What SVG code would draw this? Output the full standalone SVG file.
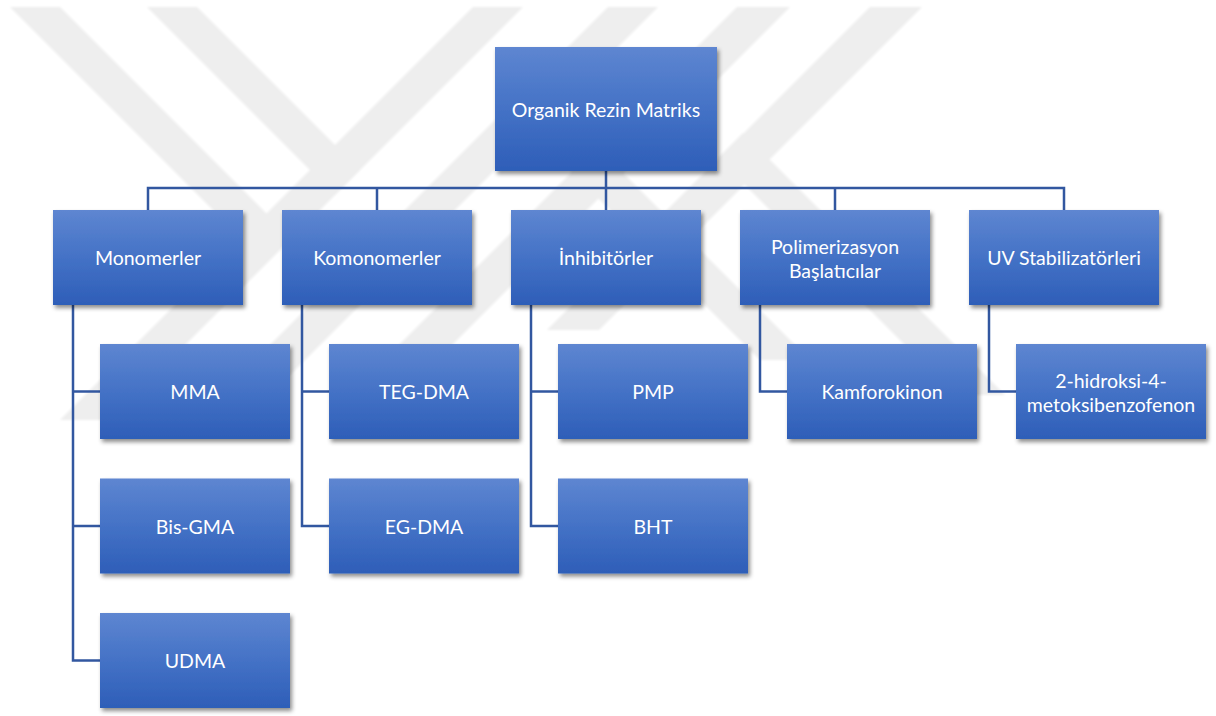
<svg xmlns="http://www.w3.org/2000/svg" width="1216" height="716" viewBox="0 0 1216 716">
<defs>
<linearGradient id="g" x1="0" y1="0" x2="0" y2="1">
<stop offset="0" stop-color="#5e86d1"/>
<stop offset="0.5" stop-color="#4472c6"/>
<stop offset="1" stop-color="#2e5eb8"/>
</linearGradient>
<filter id="sh" x="-10%" y="-10%" width="125%" height="130%">
<feDropShadow dx="2" dy="3" stdDeviation="2.2" flood-color="#000" flood-opacity="0.45"/>
</filter>
<filter id="bl"><feGaussianBlur stdDeviation="1"/></filter>
</defs>
<style>
.box{fill:url(#g);filter:url(#sh)}
.t{fill:#fff;font-family:Lato,"Liberation Sans",sans-serif;font-size:19.5px;text-anchor:middle;dominant-baseline:central}
.c{fill:none;stroke:#3257a0;stroke-width:2.5}
.w{fill:#eeeeee}
</style>
<rect width="1216" height="716" fill="#fff"/>
<g id="watermark" filter="url(#bl)">
<polygon class="w" points="473,7 523,7 110,420 60,420"/>
<polygon class="w" points="10,7 60,7 291,238 266,263"/>
<polygon class="w" points="147,7 197,7 360,170 335,195"/>
<polygon class="w" points="608,7 658,7 265,400 215,400"/>
<polygon class="w" points="737,7 790,7 417,380 364,380"/>
<polygon class="w" points="870,7 922,7 599,330 547,330"/>
<polygon class="w" points="718,158 743,133 1005,395 955,395"/>
<polygon class="w" points="550,150 600,150 810,360 760,360"/>
</g>
<g id="connectors">
<path class="c" d="M606,171V188M148,210V188H1064V210M377,188V210M606,188V210M835,188V210"/>
<path class="c" d="M73,305V660.5H100M73,391.5H100M73,526H100"/>
<path class="c" d="M302,305V526H329M302,391.5H329"/>
<path class="c" d="M531,305V526H558M531,391.5H558"/>
<path class="c" d="M760,305V391.5H787"/>
<path class="c" d="M989,305V391.5H1016"/>
</g>
<g id="root"><rect class="box" x="495" y="47" width="222" height="124"/><text class="t" x="606" y="109">Organik Rezin Matriks</text></g>
<g id="monomerler"><rect class="box" x="53" y="210" width="190" height="95"/><text class="t" x="148" y="257.5">Monomerler</text></g>
<g id="komonomerler"><rect class="box" x="282" y="210" width="190" height="95"/><text class="t" x="377" y="257.5">Komonomerler</text></g>
<g id="inhibitorler"><rect class="box" x="511" y="210" width="190" height="95"/><text class="t" x="606" y="257.5">İnhibitörler</text></g>
<g id="polimerizasyon"><rect class="box" x="740" y="210" width="190" height="95"/><text class="t" x="835" y="246">Polimerizasyon</text><text class="t" x="835" y="270">Başlatıcılar</text></g>
<g id="uv"><rect class="box" x="969" y="210" width="190" height="95"/><text class="t" x="1064" y="257.5">UV Stabilizatörleri</text></g>
<g id="mma"><rect class="box" x="100" y="344" width="190" height="95"/><text class="t" x="195" y="391.5">MMA</text></g>
<g id="bisgma"><rect class="box" x="100" y="478.5" width="190" height="95"/><text class="t" x="195" y="526">Bis-GMA</text></g>
<g id="udma"><rect class="box" x="100" y="613" width="190" height="95"/><text class="t" x="195" y="660.5">UDMA</text></g>
<g id="tegdma"><rect class="box" x="329" y="344" width="190" height="95"/><text class="t" x="424" y="391.5">TEG-DMA</text></g>
<g id="egdma"><rect class="box" x="329" y="478.5" width="190" height="95"/><text class="t" x="424" y="526">EG-DMA</text></g>
<g id="pmp"><rect class="box" x="558" y="344" width="190" height="95"/><text class="t" x="653" y="391.5">PMP</text></g>
<g id="bht"><rect class="box" x="558" y="478.5" width="190" height="95"/><text class="t" x="653" y="526">BHT</text></g>
<g id="kamforokinon"><rect class="box" x="787" y="344" width="190" height="95"/><text class="t" x="882" y="391.5">Kamforokinon</text></g>
<g id="hidroksi"><rect class="box" x="1016" y="344" width="190" height="95"/><text class="t" x="1111" y="380">2-hidroksi-4-</text><text class="t" x="1111" y="404">metoksibenzofenon</text></g>
</svg>
